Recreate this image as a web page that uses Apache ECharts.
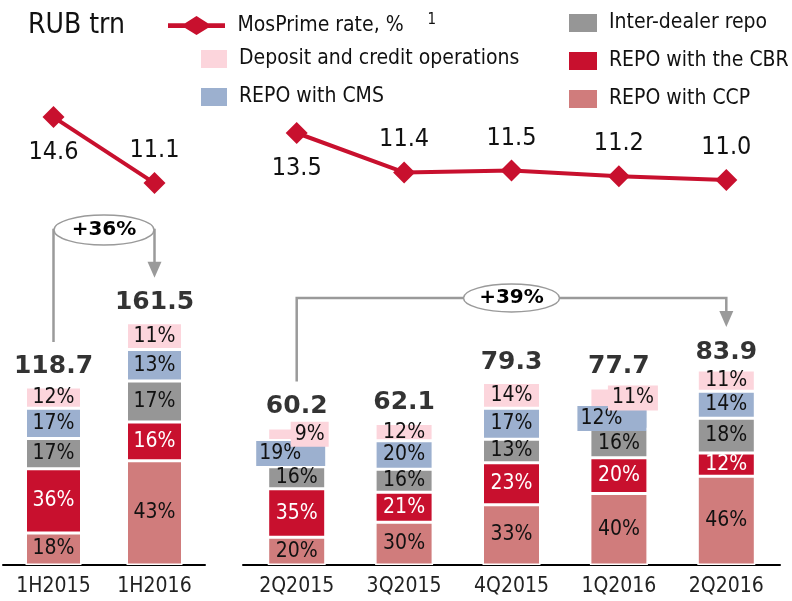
<!DOCTYPE html>
<html>
<head>
<meta charset="utf-8">
<title>Repo market volume</title>
<script src="https://cdn.jsdelivr.net/npm/echarts@6/dist/echarts.min.js"></script>
<style>
    html, body { margin: 0; padding: 0; background: #fff; }
    #repo_chart { width: 792px; height: 601px; }
</style>
</head>
<body>
<div id="repo_chart"></div>

<script type="text/javascript">
    var halfCats = ['1H2015', '1H2016'];
    var quarterCats = ['2Q2015', '3Q2015', '4Q2015', '1Q2016', '2Q2016'];

    // totals, RUB trn
    var halfTotals = [118.7, 161.5];
    var quarterTotals = [60.2, 62.1, 79.3, 77.7, 83.9];

    // MosPrime rate, %
    var halfMosPrime = [14.6, 11.1];
    var quarterMosPrime = [13.5, 11.4, 11.5, 11.2, 11.0];

    // shares of the total, % (bottom to top)
    var halfCCP = [18, 43];
    var halfCBR = [36, 16];
    var halfInter = [17, 17];
    var halfCMS = [17, 13];
    var halfDeposit = [12, 11];

    var quarterCCP = [20, 30, 33, 40, 46];
    var quarterCBR = [35, 21, 23, 20, 12];
    var quarterInter = [16, 16, 13, 16, 18];
    var quarterCMS = [19, 20, 17, 12, 14];
    var quarterDeposit = [9, 12, 14, 11, 11];

    var halfGrowth = '+36%';
    var quarterGrowth = '+39%';

    var FONT = '"DejaVu Sans Condensed", "DejaVu Sans", sans-serif';
    var BOLD_FONT = '"DejaVu Sans", sans-serif';
    var C_CCP = '#d07c7c', C_CBR = '#c8102e', C_INTER = '#969696', C_CMS = '#9cb0cf', C_DEP = '#fcd5dc';
    var C_LINE = '#c8102e';
    // line with a diamond on it, for the legend
    var LINE_ICON = 'path://M0,7.5L18,7.5L30,0L42,7.5L60,7.5L60,12.5L42,12.5L30,20L18,12.5L0,12.5Z';

    function barSeries(name, pcts, totals, idx, color, textColor, specials) {
        return {
            name: name,
            type: 'bar',
            stack: 'vol' + idx,
            xAxisIndex: idx,
            yAxisIndex: idx,
            barWidth: idx === 0 ? 56 : 58,
            itemStyle: {color: color, borderColor: '#fff', borderWidth: 1.5},
            label: {
                show: true, position: 'inside', color: textColor,
                fontSize: 21, fontFamily: FONT,
                formatter: function (p) { return pcts[p.dataIndex] + '%'; }
            },
            data: pcts.map(function (v, i) {
                var item = {value: totals[i] * v / 100};
                if (specials && specials[i]) item.label = specials[i];
                return item;
            })
        };
    }

    function totalSeries(totals, idx) {
        return {
            type: 'scatter', xAxisIndex: idx, yAxisIndex: idx,
            symbolSize: 1, itemStyle: {color: 'rgba(0,0,0,0)'},
            label: {
                show: true, position: 'top', distance: 7,
                fontSize: 25, fontWeight: 'bold', color: '#000', fontFamily: BOLD_FONT,
                formatter: function (p) { return p.value.toFixed(1); }
            },
            data: totals
        };
    }

    function lineSeries(values, idx, below) {
        return {
            name: 'MosPrime rate, %',
            type: 'line',
            xAxisIndex: idx, yAxisIndex: idx,
            symbol: 'diamond', symbolSize: 22,
            itemStyle: {color: C_LINE},
            lineStyle: {color: C_LINE, width: 4},
            label: {
                show: true, position: 'top', distance: 9,
                fontSize: 25, color: '#111', fontFamily: FONT,
                formatter: function (p) { return p.value.toFixed(1); }
            },
            data: values.map(function (v, i) {
                return below.indexOf(i) >= 0 ? {value: v, label: {position: 'bottom', distance: 12}} : v;
            })
        };
    }

    // label boxes that stick out of thin segments
    var cmsSpecial = {
        0: {backgroundColor: C_CMS, padding: [2, 24, 2, 3], offset: [-6, 0]},
        3: {backgroundColor: C_CMS, padding: [2, 24, 2, 3], offset: [-7, 0]}
    };
    var depSpecial = {
        0: {backgroundColor: C_DEP, padding: [2, 4, 2, 4], offset: [13, 0]},
        3: {backgroundColor: C_DEP, padding: [2, 4, 2, 4], offset: [14, 0]}
    };

    function catAxis(data, grid, show) {
        return {
            type: 'category', gridIndex: grid, data: data, show: show,
            axisLine: {lineStyle: {color: '#000', width: 2}},
            axisTick: {show: false},
            axisLabel: {fontSize: 21, color: '#222', margin: 11, fontFamily: FONT}
        };
    }

    function valAxis(grid, min, max) {
        return {type: 'value', gridIndex: grid, min: min, max: max, show: false, splitLine: {show: false}};
    }

    option = {
        animation: false,
        backgroundColor: '#fff',
        title: {
            text: 'RUB trn', left: 28, top: 12, padding: 0,
            textStyle: {fontSize: 28, fontWeight: 'normal', color: '#111', fontFamily: FONT}
        },
        legend: [
            {
                data: [{name: 'MosPrime rate, %', icon: LINE_ICON}],
                left: 168, top: 13, padding: 0, selectedMode: false,
                itemWidth: 60, itemHeight: 19, itemGap: 10,
                textStyle: {fontSize: 21, color: '#111', fontFamily: FONT,
                    rich: {sup: {fontSize: 15, padding: [0, 0, 10, 0], fontFamily: FONT, color: '#111'}}},
                formatter: function (n) { return ' ' + n + '    {sup|1}'; }
            },
            {
                data: ['Deposit and credit operations', 'REPO with CMS'],
                left: 199, top: 48, padding: 0, orient: 'vertical', selectedMode: false, icon: 'rect',
                itemWidth: 28, itemHeight: 20, itemGap: 16,
                textStyle: {fontSize: 21, color: '#111', fontFamily: FONT},
                formatter: function (n) { return ' ' + n; }
            },
            {
                data: ['Inter-dealer repo', 'REPO with the CBR', 'REPO with CCP'],
                left: 567, top: 12, padding: 0, orient: 'vertical', selectedMode: false, icon: 'rect',
                itemWidth: 30, itemHeight: 20, itemGap: 16,
                textStyle: {fontSize: 21, color: '#111', fontFamily: FONT},
                formatter: function (n) { return ' ' + n; }
            }
        ],
        grid: [
            {left: 3, width: 202, top: 265, bottom: 36},
            {left: 243, width: 537, top: 335, bottom: 36},
            {left: 3, width: 202, top: 53, bottom: 359.5},
            {left: 243, width: 537, top: 48.4, bottom: 364.6}
        ],
        xAxis: [
            catAxis(halfCats, 0, true),
            catAxis(quarterCats, 1, true),
            catAxis(halfCats, 2, false),
            catAxis(quarterCats, 3, false)
        ],
        yAxis: [
            valAxis(0, 0, 200),
            valAxis(1, 0, 100),
            valAxis(2, 8, 18),
            valAxis(3, 8, 18)
        ],
        series: [
            barSeries('REPO with CCP', halfCCP, halfTotals, 0, C_CCP, '#111'),
            barSeries('REPO with the CBR', halfCBR, halfTotals, 0, C_CBR, '#fff'),
            barSeries('Inter-dealer repo', halfInter, halfTotals, 0, C_INTER, '#111'),
            barSeries('REPO with CMS', halfCMS, halfTotals, 0, C_CMS, '#111'),
            barSeries('Deposit and credit operations', halfDeposit, halfTotals, 0, C_DEP, '#111'),
            totalSeries(halfTotals, 0),

            barSeries('REPO with CCP', quarterCCP, quarterTotals, 1, C_CCP, '#111'),
            barSeries('REPO with the CBR', quarterCBR, quarterTotals, 1, C_CBR, '#fff'),
            barSeries('Inter-dealer repo', quarterInter, quarterTotals, 1, C_INTER, '#111'),
            barSeries('REPO with CMS', quarterCMS, quarterTotals, 1, C_CMS, '#111', cmsSpecial),
            barSeries('Deposit and credit operations', quarterDeposit, quarterTotals, 1, C_DEP, '#111', depSpecial),
            totalSeries(quarterTotals, 1),

            lineSeries(halfMosPrime, 2, [0]),
            lineSeries(quarterMosPrime, 3, [0])
        ]
    };

    var repo_chart = echarts.init(document.getElementById('repo_chart'));
    repo_chart.setOption(option);

    // growth brackets, placed from the bar axes
    function px(idx, cat, val) {
        return repo_chart.convertToPixel({gridIndex: idx}, [cat, val]);
    }
    function bracketParts(xa, ya, xb, yb, yMid, rx, ry, text) {
        var cx = (xa + xb) / 2;
        var gray = '#9a9a9a';
        return [
            {type: 'polyline', z: 10, shape: {points: [[xa, ya], [xa, yMid], [xb, yMid], [xb, yb - 15]]},
                style: {stroke: gray, lineWidth: 2.5, fill: null}},
            {type: 'polygon', z: 10, shape: {points: [[xb - 7, yb - 16], [xb + 7, yb - 16], [xb, yb]]},
                style: {fill: gray}},
            {type: 'ellipse', z: 11, shape: {cx: cx, cy: yMid, rx: rx, ry: ry},
                style: {fill: '#fff', stroke: gray, lineWidth: 1.5}},
            {type: 'text', z: 12, x: cx, y: yMid,
                style: {text: text, fill: '#000', font: 'bold 20px ' + BOLD_FONT, align: 'center', verticalAlign: 'middle'}}
        ];
    }

    var h0 = px(0, 0, halfTotals[0]), h1 = px(0, 1, halfTotals[1]);
    var q0 = px(1, 0, quarterTotals[0]), q4 = px(1, 4, quarterTotals[4]);
    var parts = []
        .concat(bracketParts(h0[0], h0[1] - 45, h1[0], h1[1] - 45, 230, 50, 15, halfGrowth))
        .concat(bracketParts(q0[0], q0[1] - 45, q4[0], q4[1] - 45, 298, 48, 14, quarterGrowth));
    repo_chart.setOption({graphic: parts});
</script>
</body>
</html>
